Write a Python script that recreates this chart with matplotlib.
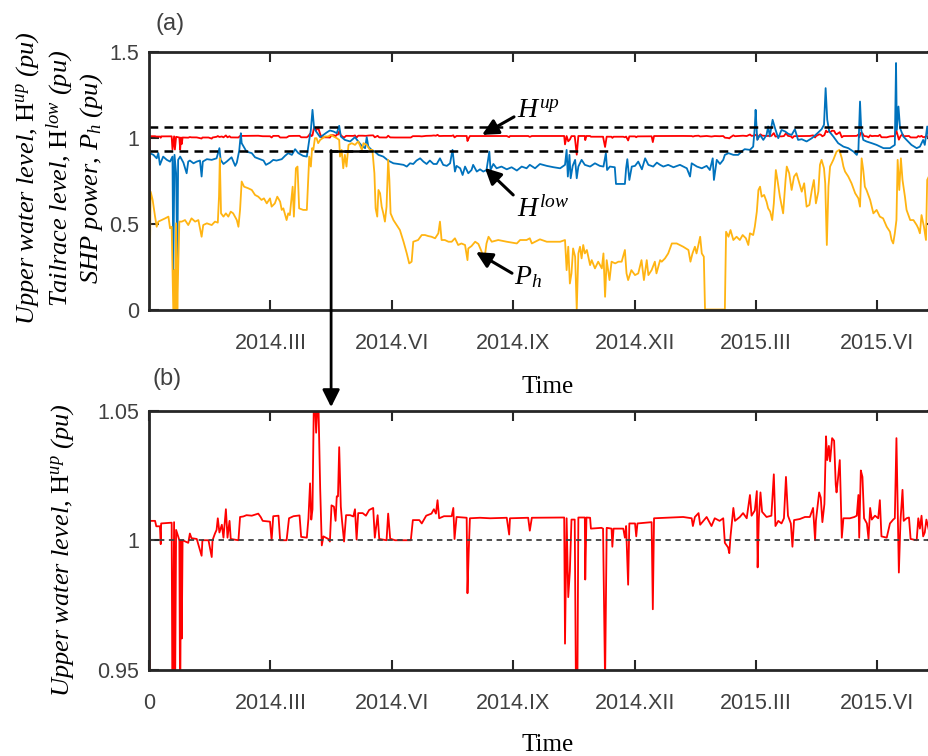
import numpy as np
import matplotlib
matplotlib.use("Agg")
import matplotlib.pyplot as plt

plt.rcParams['font.family'] = 'Liberation Sans'
plt.rcParams['mathtext.fontset'] = 'custom'
plt.rcParams['mathtext.rm'] = 'Liberation Serif'
plt.rcParams['mathtext.it'] = 'Liberation Serif:italic'
plt.rcParams['mathtext.bf'] = 'Liberation Serif:bold'

# time axis in months from the start of the record; ticks every 3 months
tick_pos = [3, 6, 9, 12, 15, 18]
tick_lab = ['2014.III', '2014.VI', '2014.IX', '2014.XII', '2015.III', '2015.VI']

# upper water level H_up (pu)
h_up = [
    (0.00, 0.0), (0.02, 1.0075), (0.15, 1.0075), (0.18, 1.0054), (0.27, 1.0054), (0.29, 0.9985),
    (0.30, 1.0065), (0.56, 1.0068), (0.58, 0.93), (0.62, 1.007), (0.64, 0.93), (0.67, 1.004),
    (0.75, 1.0), (0.77, 0.93), (0.79, 1.0), (0.81, 0.962), (0.83, 1.0), (0.90, 0.9995),
    (0.97, 0.999), (1.01, 1.0026), (1.05, 1.0008), (1.18, 1.0005), (1.30, 0.994), (1.32, 1.0),
    (1.47, 1.0), (1.55, 0.9935), (1.57, 1.0), (1.63, 1.0026), (1.67, 1.004), (1.70, 1.0085),
    (1.74, 1.003), (1.80, 1.006), (1.84, 1.001), (1.90, 1.012), (1.94, 1.001), (1.99, 1.0075),
    (2.02, 1.0005), (2.21, 1.0), (2.25, 1.009), (2.33, 1.0092), (2.41, 1.0097), (2.54, 1.0095),
    (2.70, 1.0103), (2.76, 1.009), (2.81, 1.0075), (2.99, 1.0072), (3.03, 1.0), (3.07, 1.0093),
    (3.20, 1.0095), (3.24, 1.0), (3.40, 1.0), (3.46, 1.0085), (3.57, 1.0093), (3.72, 1.0096),
    (3.76, 1.0013), (3.90, 1.001), (3.94, 1.0085), (3.98, 1.022), (4.01, 1.008), (4.04, 1.012),
    (4.08, 1.062), (4.13, 1.0416), (4.18, 1.058), (4.23, 1.02), (4.27, 0.998), (4.31, 1.0015),
    (4.43, 1.0005), (4.47, 0.9995), (4.51, 1.0135), (4.57, 1.013), (4.61, 1.0075), (4.64, 1.017),
    (4.67, 1.017), (4.70, 1.036), (4.74, 1.013), (4.77, 1.0075), (4.82, 0.9995), (4.87, 1.0097),
    (4.97, 1.0097), (5.05, 1.0092), (5.09, 1.012), (5.13, 1.0003), (5.17, 1.0105), (5.28, 1.0105),
    (5.36, 1.0095), (5.44, 1.0117), (5.54, 1.0125), (5.58, 1.001), (5.65, 1.0097), (5.69, 1.0005),
    (5.87, 1.0), (5.91, 1.0103), (5.96, 1.0006), (6.08, 1.0), (6.47, 1.0), (6.52, 1.0078),
    (6.68, 1.0078), (6.74, 1.0065), (6.85, 1.0095), (6.98, 1.0103), (7.04, 1.012), (7.09, 1.0103),
    (7.13, 1.0155), (7.17, 1.0085), (7.29, 1.0093), (7.48, 1.0093), (7.52, 1.0125), (7.55, 1.0005),
    (7.60, 1.009), (7.85, 1.0087), (7.87, 0.9795), (7.90, 0.9955), (7.93, 1.0085), (8.18, 1.0087),
    (8.43, 1.0085), (8.84, 1.0087), (8.90, 1.0022), (8.92, 1.0085), (9.37, 1.0087), (9.41, 1.0037),
    (9.46, 1.0087), (10.26, 1.0088), (10.28, 0.960), (10.32, 1.0085), (10.36, 0.978), (10.40, 0.988),
    (10.44, 1.008), (10.52, 1.008), (10.57, 0.90), (10.61, 1.0088), (10.77, 1.0088), (10.78, 0.9848),
    (10.81, 1.0088), (10.90, 1.0087), (10.92, 1.0045), (11.18, 1.0048), (11.22, 1.0045), (11.27, 0.945),
    (11.31, 1.0048), (11.43, 1.0045), (11.45, 0.9975), (11.48, 1.0045), (11.72, 1.0045), (11.76, 1.001),
    (11.79, 1.0055), (11.84, 0.9828), (11.87, 1.0065), (12.01, 1.0065), (12.04, 1.0015), (12.07, 1.0065),
    (12.42, 1.007), (12.45, 0.9733), (12.48, 1.0085), (12.88, 1.0088), (13.20, 1.009), (13.41, 1.0085),
    (13.44, 1.0055), (13.49, 1.009), (13.58, 1.0105), (13.62, 1.006), (13.78, 1.009), (13.90, 1.0055),
    (13.98, 1.0085), (14.10, 1.0075), (14.19, 1.0085), (14.23, 0.999), (14.31, 0.9972), (14.34, 0.995),
    (14.37, 1.0015), (14.44, 1.0125), (14.48, 1.0075), (14.60, 1.009), (14.68, 1.0105), (14.77, 1.0085),
    (14.85, 1.0175), (14.89, 1.0095), (14.97, 1.0115), (15.02, 1.019), (15.04, 0.9895), (15.07, 1.0085),
    (15.11, 1.0185), (15.15, 1.011), (15.26, 1.009), (15.38, 1.0095), (15.44, 1.0255), (15.48, 1.0055),
    (15.55, 1.0075), (15.63, 1.0065), (15.69, 1.0085), (15.74, 1.0245), (15.79, 1.0095), (15.86, 1.0065),
    (15.90, 0.9975), (15.94, 1.0078), (16.08, 1.0082), (16.21, 1.009), (16.33, 1.009), (16.41, 1.0125),
    (16.46, 1.0), (16.48, 1.0075), (16.56, 1.0185), (16.60, 1.0165), (16.64, 1.007), (16.69, 1.014),
    (16.73, 1.0402), (16.76, 1.031), (16.80, 1.0365), (16.83, 1.0305), (16.88, 1.0395), (16.93, 1.0385),
    (16.97, 1.0215), (16.99, 1.0185), (17.03, 1.0245), (17.07, 1.031), (17.12, 1.001), (17.16, 1.0085),
    (17.32, 1.0085), (17.43, 1.009), (17.49, 1.0095), (17.53, 1.0175), (17.55, 1.001), (17.59, 1.027),
    (17.63, 1.0245), (17.67, 1.0085), (17.74, 1.0065), (17.78, 1.0005), (17.82, 1.0125), (17.86, 1.008),
    (17.94, 1.0095), (18.02, 1.0085), (18.06, 1.0155), (18.10, 1.0015), (18.23, 1.001), (18.31, 1.0065),
    (18.39, 1.008), (18.43, 1.0085), (18.47, 1.0395), (18.50, 1.0125), (18.53, 0.9875), (18.57, 1.0075),
    (18.62, 1.0195), (18.65, 1.0075), (18.72, 1.0085), (18.78, 1.0088), (18.82, 1.0005), (18.97, 1.0),
    (19.01, 1.0085), (19.05, 1.0045), (19.09, 1.0095), (19.13, 1.0015), (19.17, 1.003), (19.21, 1.008),
    (19.27, 1.004),
]

# tailrace level H_low (pu)
h_low = [
    (0.01, 0.938), (0.02, 0.909), (0.11, 0.899), (0.19, 0.879), (0.23, 0.909), (0.27, 0.841),
    (0.35, 0.889), (0.44, 0.870), (0.52, 0.860), (0.58, 0.889), (0.60, 0.229), (0.63, 0.899),
    (0.67, 0.792), (0.70, 0.229), (0.72, 0.870), (0.77, 0.889), (0.85, 0.854), (0.93, 0.792),
    (0.97, 0.860), (1.01, 0.866), (1.10, 0.850), (1.18, 0.860), (1.26, 0.866), (1.30, 0.773),
    (1.33, 0.860), (1.43, 0.874), (1.55, 0.870), (1.67, 0.879), (1.74, 0.938), (1.77, 0.870),
    (1.84, 0.846), (1.92, 0.860), (2.04, 0.885), (2.13, 0.835), (2.17, 0.854), (2.23, 0.924),
    (2.27, 1.025), (2.29, 0.967), (2.35, 0.943), (2.41, 0.918), (2.54, 0.909), (2.62, 0.885),
    (2.74, 0.874), (2.83, 0.866), (2.89, 0.841), (2.99, 0.854), (3.07, 0.870), (3.15, 0.866),
    (3.28, 0.874), (3.36, 0.893), (3.44, 0.909), (3.53, 0.899), (3.61, 0.932), (3.69, 0.909),
    (3.81, 0.893), (3.90, 0.889), (3.96, 0.986), (4.00, 1.044), (4.04, 1.161), (4.08, 1.054),
    (4.13, 1.035), (4.23, 1.002), (4.31, 1.015), (4.39, 1.029), (4.47, 1.041), (4.56, 1.035),
    (4.64, 1.025), (4.70, 1.068), (4.74, 1.006), (4.84, 0.986), (4.97, 0.977), (5.09, 1.002),
    (5.17, 0.977), (5.26, 0.951), (5.34, 0.938), (5.38, 1.002), (5.42, 0.947), (5.50, 0.928),
    (5.58, 0.918), (5.67, 0.899), (5.79, 0.889), (5.91, 0.866), (6.04, 0.850), (6.16, 0.846),
    (6.29, 0.841), (6.37, 0.831), (6.45, 0.850), (6.53, 0.846), (6.61, 0.866), (6.70, 0.879),
    (6.78, 0.860), (6.86, 0.846), (6.94, 0.866), (7.03, 0.846), (7.11, 0.846), (7.19, 0.879),
    (7.27, 0.841), (7.36, 0.835), (7.44, 0.850), (7.50, 0.928), (7.56, 0.802), (7.60, 0.835),
    (7.69, 0.821), (7.75, 0.782), (7.81, 0.831), (7.89, 0.792), (7.97, 0.811), (8.01, 0.841),
    (8.10, 0.802), (8.18, 0.815), (8.26, 0.802), (8.34, 0.811), (8.41, 0.918), (8.44, 0.811),
    (8.51, 0.846), (8.59, 0.821), (8.71, 0.831), (8.84, 0.815), (8.96, 0.827), (9.09, 0.808),
    (9.21, 0.831), (9.33, 0.821), (9.41, 0.841), (9.54, 0.821), (9.66, 0.846), (9.83, 0.835),
    (10.00, 0.827), (10.16, 0.821), (10.28, 0.841), (10.32, 0.928), (10.35, 0.773), (10.39, 0.899),
    (10.42, 0.763), (10.47, 0.835), (10.53, 0.870), (10.57, 0.763), (10.61, 0.831), (10.69, 0.870),
    (10.77, 0.841), (10.90, 0.831), (11.02, 0.850), (11.14, 0.835), (11.23, 0.831), (11.29, 0.909),
    (11.32, 0.811), (11.39, 0.831), (11.51, 0.827), (11.54, 0.730), (11.76, 0.730), (11.79, 0.821),
    (11.82, 0.874), (11.87, 0.753), (11.93, 0.831), (12.01, 0.835), (12.09, 0.860), (12.18, 0.815),
    (12.26, 0.879), (12.34, 0.841), (12.46, 0.831), (12.55, 0.854), (12.63, 0.841), (12.71, 0.831),
    (12.83, 0.841), (12.96, 0.827), (13.12, 0.841), (13.29, 0.821), (13.37, 0.773), (13.41, 0.850),
    (13.54, 0.831), (13.66, 0.821), (13.78, 0.835), (13.86, 0.811), (13.93, 0.879), (13.96, 0.753),
    (14.03, 0.870), (14.11, 0.846), (14.19, 0.870), (14.23, 0.899), (14.32, 0.909), (14.44, 0.899),
    (14.56, 0.899), (14.64, 0.918), (14.72, 0.932), (14.85, 0.928), (14.93, 0.947), (14.97, 1.060),
    (14.99, 1.161), (15.03, 0.986), (15.10, 1.015), (15.18, 0.986), (15.26, 1.015), (15.30, 1.064),
    (15.34, 1.006), (15.41, 1.103), (15.47, 1.054), (15.55, 0.996), (15.63, 1.044), (15.72, 1.035),
    (15.80, 1.021), (15.88, 1.015), (15.96, 1.048), (16.04, 0.986), (16.13, 0.990), (16.25, 0.977),
    (16.38, 0.996), (16.50, 1.021), (16.62, 1.048), (16.68, 1.074), (16.72, 1.287), (16.76, 1.103),
    (16.81, 1.035), (16.91, 1.006), (17.03, 0.967), (17.16, 0.947), (17.28, 0.938), (17.41, 0.918),
    (17.49, 0.899), (17.53, 0.928), (17.57, 1.209), (17.60, 1.044), (17.65, 0.986), (17.73, 0.977),
    (17.86, 0.967), (17.98, 0.957), (18.15, 0.938), (18.31, 0.938), (18.43, 0.957), (18.46, 1.433),
    (18.48, 1.044), (18.52, 1.180), (18.56, 1.054), (18.64, 1.006), (18.72, 0.986), (18.84, 0.957),
    (18.97, 0.938), (19.05, 0.947), (19.13, 0.986), (19.17, 0.957), (19.23, 1.064), (19.27, 0.986),
]

# SHP power P_h (pu)
p_h = [
    (0.01, 0.035), (0.04, 0.685), (0.09, 0.637), (0.15, 0.540), (0.19, 0.481), (0.23, 0.511),
    (0.31, 0.520), (0.40, 0.530), (0.48, 0.540), (0.52, 0.472), (0.56, 0.481), (0.60, 0.0),
    (0.63, 0.229), (0.64, 0.0), (0.67, 0.501), (0.70, 0.0), (0.72, 0.229), (0.75, 0.511),
    (0.81, 0.511), (0.89, 0.520), (0.97, 0.491), (1.05, 0.530), (1.14, 0.511), (1.22, 0.520),
    (1.30, 0.423), (1.34, 0.491), (1.43, 0.501), (1.55, 0.491), (1.63, 0.511), (1.70, 0.505),
    (1.73, 0.656), (1.75, 0.879), (1.78, 0.559), (1.84, 0.540), (1.90, 0.559), (1.96, 0.540),
    (2.02, 0.569), (2.08, 0.559), (2.17, 0.520), (2.21, 0.481), (2.25, 0.579), (2.29, 0.744),
    (2.35, 0.714), (2.45, 0.705), (2.54, 0.695), (2.62, 0.666), (2.70, 0.656), (2.78, 0.637),
    (2.84, 0.646), (2.91, 0.617), (2.99, 0.646), (3.03, 0.598), (3.11, 0.617), (3.17, 0.656),
    (3.24, 0.627), (3.28, 0.579), (3.32, 0.588), (3.40, 0.520), (3.44, 0.559), (3.48, 0.549),
    (3.55, 0.714), (3.58, 0.540), (3.63, 0.821), (3.67, 0.831), (3.71, 0.588), (3.81, 0.579),
    (3.90, 0.579), (3.94, 0.792), (3.96, 0.889), (4.00, 0.831), (4.03, 0.938), (4.06, 0.928),
    (4.10, 0.996), (4.14, 0.996), (4.18, 0.967), (4.23, 0.986), (4.29, 0.996), (4.35, 1.006),
    (4.43, 1.006), (4.49, 1.015), (4.56, 1.006), (4.64, 0.996), (4.70, 0.986), (4.72, 0.889),
    (4.76, 0.928), (4.80, 0.821), (4.84, 0.899), (4.88, 0.831), (4.93, 0.957), (5.01, 0.967),
    (5.09, 0.957), (5.17, 0.977), (5.26, 0.928), (5.30, 0.967), (5.38, 0.957), (5.46, 0.928),
    (5.52, 0.928), (5.57, 0.792), (5.60, 0.588), (5.64, 0.540), (5.67, 0.695), (5.71, 0.676),
    (5.75, 0.598), (5.79, 0.559), (5.83, 0.511), (5.87, 0.598), (5.91, 0.870), (5.94, 0.753),
    (5.97, 0.559), (6.04, 0.520), (6.12, 0.491), (6.20, 0.462), (6.29, 0.394), (6.37, 0.326),
    (6.43, 0.268), (6.49, 0.278), (6.53, 0.394), (6.65, 0.404), (6.74, 0.433), (6.82, 0.433),
    (6.90, 0.427), (6.98, 0.423), (7.07, 0.414), (7.15, 0.443), (7.19, 0.511), (7.23, 0.404),
    (7.31, 0.404), (7.40, 0.394), (7.48, 0.394), (7.56, 0.414), (7.64, 0.375), (7.72, 0.384),
    (7.81, 0.375), (7.87, 0.287), (7.89, 0.355), (7.97, 0.369), (8.06, 0.394), (8.14, 0.381),
    (8.22, 0.336), (8.28, 0.278), (8.34, 0.384), (8.39, 0.423), (8.47, 0.394), (8.63, 0.404),
    (8.84, 0.394), (9.09, 0.384), (9.17, 0.404), (9.33, 0.404), (9.41, 0.414), (9.46, 0.384),
    (9.66, 0.408), (9.83, 0.394), (10.00, 0.394), (10.16, 0.394), (10.28, 0.404), (10.32, 0.229),
    (10.36, 0.365), (10.40, 0.151), (10.44, 0.210), (10.48, 0.355), (10.53, 0.307), (10.57, 0.0),
    (10.61, 0.326), (10.65, 0.365), (10.69, 0.297), (10.73, 0.375), (10.77, 0.326), (10.82, 0.346),
    (10.90, 0.258), (10.94, 0.287), (11.02, 0.239), (11.10, 0.278), (11.19, 0.239), (11.23, 0.326),
    (11.27, 0.074), (11.31, 0.287), (11.38, 0.171), (11.43, 0.278), (11.52, 0.268), (11.60, 0.278),
    (11.68, 0.278), (11.76, 0.346), (11.80, 0.210), (11.84, 0.171), (11.92, 0.229), (12.01, 0.200),
    (12.09, 0.210), (12.17, 0.287), (12.23, 0.171), (12.30, 0.287), (12.34, 0.200), (12.42, 0.229),
    (12.50, 0.278), (12.54, 0.210), (12.63, 0.287), (12.67, 0.278), (12.75, 0.297), (12.83, 0.326),
    (12.92, 0.384), (13.04, 0.384), (13.20, 0.365), (13.33, 0.346), (13.38, 0.278), (13.43, 0.326),
    (13.49, 0.365), (13.53, 0.326), (13.62, 0.423), (13.66, 0.326), (13.71, 0.307), (13.74, 0.0),
    (14.23, 0.0), (14.26, 0.452), (14.32, 0.423), (14.37, 0.462), (14.44, 0.404), (14.52, 0.423),
    (14.60, 0.404), (14.67, 0.433), (14.75, 0.414), (14.81, 0.375), (14.85, 0.443), (14.93, 0.433),
    (14.97, 0.481), (15.02, 0.569), (15.06, 0.695), (15.10, 0.714), (15.14, 0.656), (15.20, 0.666),
    (15.26, 0.627), (15.30, 0.588), (15.35, 0.569), (15.40, 0.520), (15.44, 0.617), (15.49, 0.811),
    (15.53, 0.753), (15.59, 0.656), (15.67, 0.559), (15.73, 0.753), (15.76, 0.831), (15.82, 0.792),
    (15.88, 0.695), (15.94, 0.773), (16.00, 0.792), (16.07, 0.734), (16.13, 0.685), (16.19, 0.734),
    (16.25, 0.598), (16.32, 0.608), (16.38, 0.695), (16.43, 0.753), (16.48, 0.617), (16.54, 0.685),
    (16.58, 0.841), (16.62, 0.870), (16.68, 0.821), (16.71, 0.734), (16.75, 0.375), (16.79, 0.714),
    (16.83, 0.831), (16.91, 0.870), (16.99, 0.918), (17.06, 0.928), (17.12, 0.879), (17.16, 0.831),
    (17.20, 0.802), (17.28, 0.773), (17.36, 0.734), (17.45, 0.676), (17.53, 0.646), (17.57, 0.598),
    (17.61, 0.879), (17.65, 0.811), (17.69, 0.714), (17.73, 0.695), (17.82, 0.637), (17.90, 0.559),
    (17.98, 0.579), (18.06, 0.540), (18.14, 0.530), (18.23, 0.481), (18.31, 0.452), (18.35, 0.404),
    (18.39, 0.384), (18.43, 0.443), (18.47, 0.520), (18.50, 0.870), (18.54, 0.695), (18.58, 0.879),
    (18.62, 0.753), (18.68, 0.656), (18.72, 0.579), (18.81, 0.520), (18.89, 0.520), (18.97, 0.491),
    (19.01, 0.472), (19.05, 0.443), (19.09, 0.549), (19.15, 0.481), (19.20, 0.404), (19.23, 0.753),
    (19.27, 0.773),
]

# operating band limits drawn as dashed lines in (a)
band_hi = 1.062
band_lo = 0.924
x_end = 19.46

t_up, v_up = np.array(h_up).T
t_low, v_low = np.array(h_low).T
t_p, v_p = np.array(p_h).T

c_red = '#ff0000'
c_blue = '#0072bd'
c_orange = '#ffb412'
tick_gray = '#404040'
serif = 'Liberation Serif'

fig = plt.figure(figsize=(9.29, 7.56), dpi=100)
W, H = 929.0, 756.0
ax1 = fig.add_axes([149 / W, 1 - 309.5 / H, 787.5 / W, 258 / H])
ax2 = fig.add_axes([149 / W, 1 - 669.5 / H, 787.5 / W, 258.5 / H])

# ---- (a) ----
ax1.plot(t_up, v_up, color=c_red, lw=1.3)
ax1.plot(t_low, v_low, color=c_blue, lw=1.3)
ax1.plot(t_p, v_p, color=c_orange, lw=1.3)
ax1.axhline(band_hi, color='k', lw=1.8, dashes=(3.5, 2.5))
ax1.axhline(band_lo, color='k', lw=1.8, dashes=(3.5, 2.5))
ax1.plot([4.5, 5.51], [band_lo, band_lo], color='k', lw=1.8)
ax1.set_ylim(0, 1.5)
ax1.set_yticks([0, 0.5, 1, 1.5])
ax1.set_yticklabels(['0', '0.5', '1', '1.5'])
ax1.set_xticks(tick_pos)
ax1.set_xticklabels(tick_lab)

arrow_kw = dict(arrowstyle='-|>', color='k', lw=2.2, mutation_scale=24,
                shrinkA=0, shrinkB=0)
ax1.annotate('', xy=(8.23, 1.015), xytext=(9.02, 1.12), arrowprops=arrow_kw)
ax1.annotate('', xy=(8.30, 0.823), xytext=(9.00, 0.666), arrowprops=arrow_kw)
ax1.annotate('', xy=(8.08, 0.334), xytext=(8.97, 0.211), arrowprops=arrow_kw)
ax1.text(9.10, 1.155, r'$H^{up}$', fontsize=20, va='center', ha='left')
ax1.text(9.10, 0.58, r'$H^{low}$', fontsize=20, va='center', ha='left')
ax1.text(9.02, 0.19, r'$P_h$', fontsize=20, va='center', ha='left')

# ---- (b) ----
ax2.plot(t_up, v_up, color=c_red, lw=1.3)
ax2.axhline(1.0, color='#404040', lw=1.3, dashes=(3, 2.5))
ax2.set_ylim(0.95, 1.05)
ax2.set_yticks([0.95, 1, 1.05])
ax2.set_yticklabels(['0.95', '1', '1.05'])
ax2.set_xticks([0] + tick_pos)
ax2.set_xticklabels(['0'] + tick_lab)

for ax in (ax1, ax2):
    ax.set_xlim(0, x_end)
    ax.tick_params(direction='in', length=7, width=1.5, top=True, right=True,
                   labelsize=15.5, labelcolor=tick_gray, color='#262626')
    ax.tick_params(axis='x', pad=17)
    ax.tick_params(axis='y', pad=7)
    for sp in ax.spines.values():
        sp.set_linewidth(2)
        sp.set_color('#262626')

# zoom arrow from (a) to (b)
ax2.annotate('', xy=(4.5, 1.0515), xycoords='data',
             xytext=(4.5, band_lo), textcoords=ax1.transData,
             arrowprops=dict(arrowstyle='-|>', color='k', lw=2, mutation_scale=26,
                             shrinkA=0, shrinkB=0),
             annotation_clip=False)

# labels
fig.text(170 / W, 1 - 24 / H, '(a)', fontsize=17, color=tick_gray, ha='center', va='center')
fig.text(167 / W, 1 - 379 / H, '(b)', fontsize=17, color=tick_gray, ha='center', va='center')
fig.text(548 / W, 1 - 387 / H, 'Time', fontsize=18, family=serif, ha='center', va='center')
fig.text(548 / W, 1 - 745 / H, 'Time', fontsize=18, family=serif, ha='center', va='center')

ylab_kw = dict(fontsize=19, family=serif, style='italic', rotation=90, ha='center', va='center')
fig.text(28 / W, 1 - 178 / H, r'Upper water level, $\mathrm{H}^{up}$ (pu)', **ylab_kw)
fig.text(60 / W, 1 - 178 / H, r'Tailrace level, $\mathrm{H}^{low}$ (pu)', **ylab_kw)
fig.text(92 / W, 1 - 178 / H, r'SHP power, $P_h$ (pu)', **ylab_kw)
fig.text(63 / W, 1 - 550 / H, r'Upper water level, $\mathrm{H}^{up}$ (pu)', **ylab_kw)

fig.savefig('out.png', dpi=100)
